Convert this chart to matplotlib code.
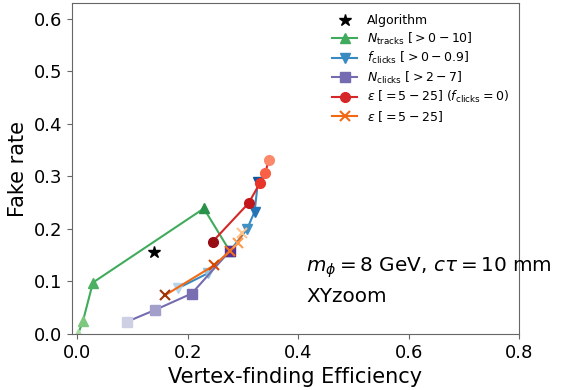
import numpy as np
import matplotlib
matplotlib.use("Agg")
import matplotlib.pyplot as plt
from matplotlib.lines import Line2D

#---------------------------------------------------------------------#
# data
algo_eff = [0.138]
algo_fake = [0.156]

ntracks_eff = [0.001, 0.010, 0.028, 0.229, 0.276]
ntracks_fake = [0.0, 0.025, 0.098, 0.239, 0.158]

fclicks_eff = [0.182, 0.237, 0.276, 0.307, 0.321, 0.327]
fclicks_fake = [0.087, 0.116, 0.158, 0.199, 0.233, 0.290]

nclicks_eff = [0.089, 0.141, 0.207, 0.276]
nclicks_fake = [0.023, 0.046, 0.077, 0.158]

eps0_eff = [0.245, 0.310, 0.331, 0.340, 0.347]
eps0_fake = [0.176, 0.249, 0.288, 0.307, 0.331]

eps_eff = [0.159, 0.248, 0.276, 0.291, 0.298]
eps_fake = [0.074, 0.131, 0.158, 0.173, 0.192]
#---------------------------------------------------------------------#

fig = plt.figure(figsize=(5.69, 3.9), dpi=100)
ax = fig.add_axes([0.1265, 0.1436, 0.7855, 0.8484])


def scan(x, y, cmap, lo, hi, marker, line_color, ms, label, mew=1.0, z=2):
    cols = plt.get_cmap(cmap)(np.linspace(lo, hi, len(x)))
    ax.plot(x, y, '-', color=line_color, lw=1.5, zorder=z)
    for xi, yi, c in zip(x, y, cols):
        ax.plot(xi, yi, marker, color=c, ms=ms, mew=mew, zorder=z + 0.5)
    return Line2D([], [], color=line_color, marker=marker, ms=ms, lw=1.5, mew=mew, label=label)


h_tr = scan(ntracks_eff, ntracks_fake, 'Greens', 0.35, 0.85, '^', '#41ab5d', 6.5,
            r'$N_\mathrm{tracks}$ $[>0-10]$')
h_fc = scan(fclicks_eff, fclicks_fake, 'Blues', 0.3, 0.85, 'v', '#3a8ac2', 6.5,
            r'$f_\mathrm{clicks}$ $[>0-0.9]$')
h_nc = scan(nclicks_eff, nclicks_fake, 'Purples', 0.3, 0.85, 's', '#756bb1', 6.5,
            r'$N_\mathrm{clicks}$ $[>2-7]$', z=3)
h_e0 = scan(eps0_eff, eps0_fake, 'Reds_r', 0.1, 0.6, 'o', '#d62728', 7,
            r'$\epsilon$ $[=5-25]$ $(f_\mathrm{clicks}=0)$', z=5)
h_e = scan(eps_eff, eps_fake, 'Oranges_r', 0.1, 0.7, 'x', '#f16913', 6.5,
           r'$\epsilon$ $[=5-25]$', mew=1.5, z=4)

ax.plot(algo_eff, algo_fake, '*', color='black', ms=9, zorder=6)
h_alg = Line2D([], [], color='black', marker='*', ls='none', ms=9, label='Algorithm')

ax.legend(handles=[h_alg, h_tr, h_fc, h_nc, h_e0, h_e], loc='upper left',
          bbox_to_anchor=(0.557, 1.0), frameon=False, fontsize=9,
          handlelength=2.0, labelspacing=0.27)

ax.text(0.415, 0.127, r'$m_{\phi} = 8$ GeV, $c\tau = 10$ mm', fontsize=14.4, va='center')
ax.text(0.415, 0.072, 'XYzoom', fontsize=14.4, va='center')

ax.set_xlim(-0.01, 0.8)
ax.set_ylim(0, 0.63)
ax.set_xticks([0.0, 0.2, 0.4, 0.6, 0.8])
ax.set_yticks([0.0, 0.1, 0.2, 0.3, 0.4, 0.5, 0.6])
ax.tick_params(labelsize=13, color='0.4')
for s in ax.spines.values():
    s.set_color('0.4')
ax.set_xlabel('Vertex-finding Efficiency', fontsize=15)
ax.set_ylabel('Fake rate', fontsize=15)

fig.savefig('out.png', dpi=100)
